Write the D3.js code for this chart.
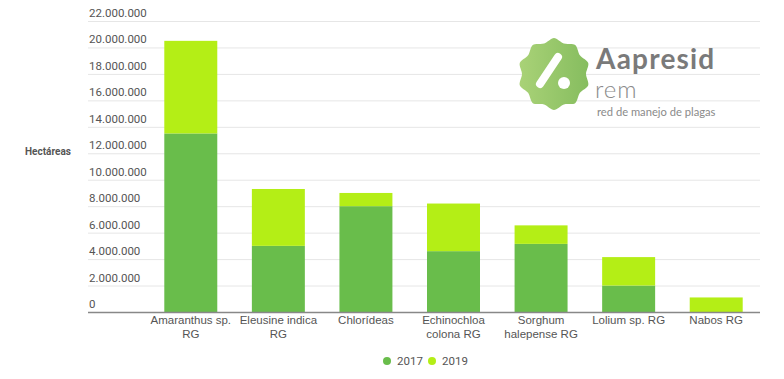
<!DOCTYPE html>
<html>
<head>
<meta charset="utf-8">
<script src="https://cdn.jsdelivr.net/npm/d3@7"></script>
<style>
  body { margin: 0; background: #fff; }
  svg { display: block; font-family: Roboto, "Open Sans", sans-serif; }
</style>
</head>
<body>
<svg id="chart" width="784" height="379"></svg>
<script>
const categories = [
  ["Amaranthus sp.", "RG"],
  ["Eleusine indica", "RG"],
  ["Chlorídeas"],
  ["Echinochloa", "colona RG"],
  ["Sorghum", "halepense RG"],
  ["Lolium sp. RG"],
  ["Nabos RG"]
];
const years = ["2017", "2019"];
const values2017 = [13500000, 5000000, 8000000, 4600000, 5150000, 2000000, 0];
const values2019 = [7000000, 4300000, 1000000, 3600000, 1400000, 2150000, 1100000];
const yTicks = d3.range(0, 22000001, 2000000);
const colors = { "2017": "#69bd4b", "2019": "#b4ee16" };

const svg = d3.select("#chart");
const plotLeft = 88, plotRight = 760, plotTop = 21, plotBottom = 312;

const rows = categories.map((c, i) => ({ key: i, "2017": values2017[i], "2019": values2019[i] }));
const stack = d3.stack().keys(years)(rows);

const x = d3.scaleBand()
  .domain(categories.map((c, i) => i))
  .range([147, plotRight])
  .paddingInner(0.395)
  .paddingOuter(0.1975);
const y = d3.scaleLinear().domain([0, 22000000]).range([plotBottom, plotTop]);

const fmt = d => d3.format(",")(d).replace(/,/g, ".");

// gridlines + tick labels
const grid = svg.append("g");
grid.selectAll("line").data(yTicks.filter(d => d > 0)).enter().append("line")
  .attr("x1", plotLeft).attr("x2", plotRight)
  .attr("y1", d => y(d) + 0.5).attr("y2", d => y(d) + 0.5)
  .attr("stroke", "#e6e6e6").attr("stroke-width", 1);
grid.selectAll("text").data(yTicks).enter().append("text")
  .attr("x", plotLeft + 1).attr("y", d => y(d) - 4)
  .attr("font-size", 11.5).attr("fill", "#555")
  .text(d => fmt(d));

svg.append("text")
  .attr("x", 25).attr("y", 155)
  .attr("font-size", 10).attr("font-weight", "bold").attr("fill", "#555")
  .text("Hectáreas");

// logo
const logo = svg.append("g").attr("transform", "translate(554,74)");
const defs = svg.append("defs");
const grad = defs.append("linearGradient").attr("id", "lg").attr("x1", 0).attr("x2", 1);
grad.append("stop").attr("offset", 0).attr("stop-color", "#a9d277");
grad.append("stop").attr("offset", 1).attr("stop-color", "#86bd5f");
const lobes = 10;
const blobPts = d3.range(lobes * 2).map(i => [i * Math.PI / lobes, i % 2 ? 32 : 36]);
logo.append("path")
  .attr("d", d3.lineRadial().curve(d3.curveCardinalClosed.tension(0.1))(blobPts))
  .attr("fill", "url(#lg)");
logo.append("line")
  .attr("x1", 4).attr("y1", -17).attr("x2", -14).attr("y2", 10)
  .attr("stroke", "#fff").attr("stroke-width", 8).attr("stroke-linecap", "round");
logo.append("circle").attr("cx", 10).attr("cy", 9).attr("r", 6).attr("fill", "#fff");

svg.append("text").attr("x", 596).attr("y", 69)
  .attr("font-family", "Lato, sans-serif")
  .attr("font-size", 28).attr("font-weight", "bold").attr("fill", "#7a7a7a")
  .attr("letter-spacing", 1.2).text("Aapresid");
svg.append("text").attr("x", 595).attr("y", 98)
  .attr("font-family", "Lato, sans-serif")
  .attr("font-size", 24).attr("font-weight", 300).attr("fill", "#8a8a8a")
  .attr("letter-spacing", 1).text("rem");
svg.append("text").attr("x", 597).attr("y", 116)
  .attr("font-family", "Lato, sans-serif")
  .attr("font-size", 11.2).attr("fill", "#8a8a8a")
  .text("red de manejo de plagas");

// bars
svg.append("g").selectAll("g").data(stack).enter().append("g")
  .attr("fill", d => colors[d.key])
  .selectAll("rect").data(d => d).enter().append("rect")
  .attr("x", d => x(d.data.key))
  .attr("width", x.bandwidth())
  .attr("y", d => y(d[1]))
  .attr("height", d => y(d[0]) - y(d[1]));

// x axis
const xAxis = svg.append("g").attr("transform", `translate(0,${plotBottom})`)
  .call(d3.axisBottom(x).tickSize(0).tickFormat(""));
xAxis.select(".domain").attr("d", `M${plotLeft},0.5H${plotRight}`).attr("stroke", "#888").attr("stroke-width", 1.5);
xAxis.selectAll(".tick").each(function(d) {
  const t = d3.select(this).append("text")
    .attr("fill", "#555").attr("font-size", 11.5).attr("text-anchor", "middle");
  categories[d].forEach((line, j) => {
    t.append("tspan").attr("x", 0).attr("y", 12 + j * 14).text(line);
  });
});

// legend
const legend = svg.append("g").attr("transform", "translate(387,361)");
const lx = [0, 45];
years.forEach((yr, i) => {
  legend.append("circle").attr("cx", lx[i]).attr("cy", 0).attr("r", 4).attr("fill", colors[yr]);
  legend.append("text").attr("x", lx[i] + 10).attr("y", 4)
    .attr("font-size", 11.5).attr("fill", "#555").text(yr);
});
</script>
</body>
</html>
